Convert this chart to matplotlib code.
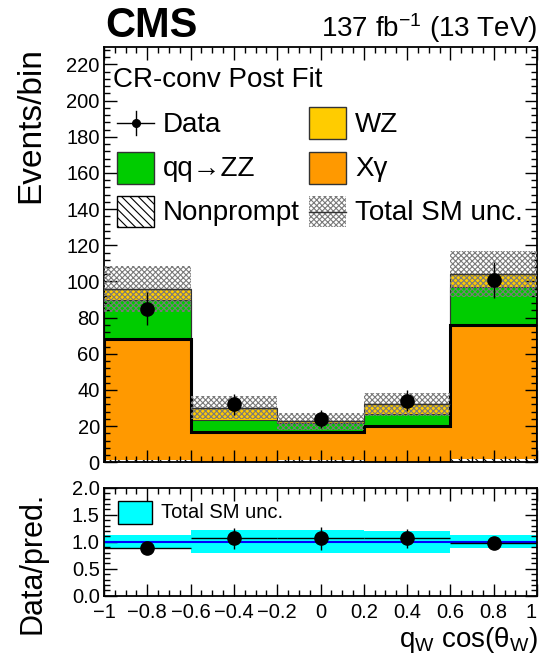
import numpy as np
import matplotlib
matplotlib.use("Agg")
import matplotlib.pyplot as plt
from matplotlib.patches import Rectangle
from matplotlib.lines import Line2D
from matplotlib.ticker import MultipleLocator, FuncFormatter

plt.rcParams["font.family"] = ["Liberation Sans", "DejaVu Sans"]
plt.rcParams["mathtext.fontset"] = "custom"
plt.rcParams["mathtext.rm"] = "Liberation Sans"
plt.rcParams["mathtext.it"] = "Liberation Sans:italic"
plt.rcParams["mathtext.bf"] = "Liberation Sans:bold"
plt.rcParams["hatch.linewidth"] = 0.8

# binning in q_W cos(theta_W)
edges = np.array([-1.0, -0.6, -0.2, 0.2, 0.6, 1.0])

# post-fit yields per bin (stacked bottom to top)
nonprompt = np.array([1.5, 0.3, 1.5, 0.3, 2.0])
xgamma = np.array([66.9, 16.5, 15.4, 19.8, 73.7])
qqzz = np.array([21.1, 6.8, 4.7, 6.8, 21.2])
wz = np.array([6.5, 6.6, 1.0, 5.1, 7.3])
sm_unc = np.array([12.7, 6.3, 4.9, 6.4, 12.6])

# observed
data = np.array([85, 32, 24, 34, 101])
data_err = np.array([9.2, 5.7, 4.9, 5.8, 10.0])

C_WZ = "#ffcc00"
C_ZZ = "#00cc00"
C_XG = "#ff9900"
C_UNC = "#7a7a7a"

W, H = 539, 664


def fx(x):
    return x / W


def fy(y):
    return 1 - y / H


fig = plt.figure(figsize=(W / 100, H / 100), dpi=100)
ax = fig.add_axes([fx(104), fy(462.3), 433 / W, 415 / H])
rax = fig.add_axes([fx(104), fy(595.7), 433 / W, 108 / H])

centers = 0.5 * (edges[1:] + edges[:-1])
half = 0.5 * np.diff(edges)

b0 = nonprompt
b1 = b0 + xgamma
b2 = b1 + qqzz
total = b2 + wz

# stacked histogram
ax.stairs(b0, edges, baseline=0, fill=True, facecolor="white", edgecolor="k",
          hatch="\\\\\\\\", lw=0, zorder=1)
ax.stairs(b1, edges, baseline=b0, fill=True, color=C_XG, lw=0, zorder=1)
ax.stairs(b2, edges, baseline=b1, fill=True, color=C_ZZ, lw=0, zorder=1)
ax.stairs(total, edges, baseline=b2, fill=True, color=C_WZ, lw=0, zorder=1)
ax.stairs(total, edges, baseline=0, color="#333333", lw=0.8, zorder=2)
ax.stairs(b2, edges, baseline=0, color="#333333", lw=0.8, zorder=2)
ax.stairs(b1, edges, baseline=0, color="k", lw=2.2, zorder=2)

# total SM uncertainty band and central value
ax.stairs(total + sm_unc, edges, baseline=total - sm_unc, fill=True,
          facecolor="none", edgecolor=C_UNC, hatch="xxxxxx", lw=0, zorder=3)
ax.hlines(total, edges[:-1], edges[1:], color="#333333", lw=1.0, zorder=3)

ax.errorbar(centers, data, yerr=data_err, fmt="o", color="k", ms=9.5,
            elinewidth=1.0, capsize=0, zorder=5)

ax.set_xlim(-1, 1)
ax.set_ylim(0, 229.5)
ax.yaxis.set_major_locator(MultipleLocator(20))
ax.yaxis.set_minor_locator(MultipleLocator(4))
ax.xaxis.set_major_locator(MultipleLocator(0.2))
ax.xaxis.set_minor_locator(MultipleLocator(0.05))
ax.tick_params(which="both", direction="in", top=True, right=True, labelsize=14.5, pad=3)
ax.tick_params(which="major", length=9, width=1)
ax.tick_params(which="minor", length=4.5, width=1)
ax.tick_params(axis="x", labelbottom=False)
for s in ax.spines.values():
    s.set_linewidth(1.3)

# ratio panel
rel = sm_unc / total
rax.stairs(1 + rel, edges, baseline=1 - rel, fill=True, color="#00ffff", lw=0, zorder=1)
rax.axhline(1.0, color="#0000ff", lw=1.5, zorder=2)
rax.errorbar(centers, data / total, xerr=half, yerr=data_err / total, fmt="o",
             color="k", ms=9.5, elinewidth=1.0, capsize=0, zorder=5)
rax.set_xlim(-1, 1)
rax.set_ylim(0, 2)
rax.yaxis.set_major_locator(MultipleLocator(0.5))
rax.yaxis.set_minor_locator(MultipleLocator(0.1))
rax.xaxis.set_major_locator(MultipleLocator(0.2))
rax.xaxis.set_minor_locator(MultipleLocator(0.05))
rax.yaxis.set_major_formatter(FuncFormatter(lambda v, p: f"{v:.1f}"))
rax.xaxis.set_major_formatter(
    FuncFormatter(lambda v, p: f"{round(v, 1):g}".replace("-", "\u2212")))
rax.tick_params(which="both", direction="in", top=True, right=True, labelsize=14.5)
rax.tick_params(axis="x", pad=5)
rax.tick_params(axis="y", pad=3)
rax.tick_params(which="major", length=9, width=1)
rax.tick_params(which="minor", length=4.5, width=1)
for s in rax.spines.values():
    s.set_linewidth(1.3)

# titles and axis labels
fig.text(fx(105), fy(37), "CMS", fontsize=30, fontweight="bold", va="baseline", ha="left")
fig.text(fx(537), fy(37), r"137 fb$^{-1}$ (13 TeV)", fontsize=20, va="baseline", ha="right")
fig.text(fx(31), fy(47), "Events/bin", fontsize=24, rotation=90, ha="center", va="top")
fig.text(fx(32), fy(492), "Data/pred.", fontsize=22, rotation=90, ha="center", va="top")
fig.text(fx(538), fy(647), r"q$_{\rm W}$ cos(θ$_{\rm W}$)", fontsize=20, ha="right", va="baseline")

# legend
fig.text(fx(113), fy(87), "CR-conv Post Fit", fontsize=20, va="baseline")
rows = [123, 168, 212]
cols = [117, 309]
bw, bh = 37, 31


def box(col, row, **kw):
    fig.add_artist(Rectangle((fx(cols[col]), fy(rows[row] + bh / 2)), bw / W, bh / H,
                             transform=fig.transFigure, **kw))


def label(col, row, text):
    fig.text(fx(cols[col] + 46), fy(rows[row] + 8.5), text, fontsize=20, va="baseline")


xc = cols[0] + bw / 2
fig.add_artist(Line2D([fx(cols[0]), fx(cols[0] + bw)], [fy(rows[0])] * 2,
                      color="k", lw=1, transform=fig.transFigure))
fig.add_artist(Line2D([fx(xc)] * 2, [fy(rows[0] - 12), fy(rows[0] + 12)],
                      color="k", lw=1, transform=fig.transFigure))
fig.add_artist(Line2D([fx(xc)], [fy(rows[0])], marker="o", ms=5.5, color="k",
                      transform=fig.transFigure))
label(0, 0, "Data")
box(1, 0, facecolor=C_WZ, edgecolor="#333333", lw=1)
label(1, 0, "WZ")
box(0, 1, facecolor=C_ZZ, edgecolor="#333333", lw=1)
label(0, 1, "qq\u2192ZZ")
box(1, 1, facecolor=C_XG, edgecolor="#333333", lw=1)
label(1, 1, "X\u03b3")
box(0, 2, facecolor="white", edgecolor="k", hatch="\\\\\\\\", lw=1)
label(0, 2, "Nonprompt")
box(1, 2, facecolor="none", edgecolor=C_UNC, hatch="xxxxxx", lw=0)
fig.add_artist(Line2D([fx(cols[1]), fx(cols[1] + bw)], [fy(rows[2])] * 2,
                      color="#333333", lw=1, transform=fig.transFigure))
label(1, 2, "Total SM unc.")

# ratio legend
fig.add_artist(Rectangle((fx(118), fy(524)), 34 / W, 23 / H, transform=fig.transFigure,
                         facecolor="#00ffff", edgecolor="k", lw=1))
fig.text(fx(161), fy(518), "Total SM unc.", fontsize=14.5, va="baseline")

# keep the "1" tick label inside the canvas
fig.canvas.draw()
for t in rax.xaxis.get_major_ticks():
    if abs(t.get_loc() - 1.0) < 1e-6:
        t.label1.set_horizontalalignment("right")
        t.label1.set_x(1.0)

fig.savefig("out.png", dpi=100)
